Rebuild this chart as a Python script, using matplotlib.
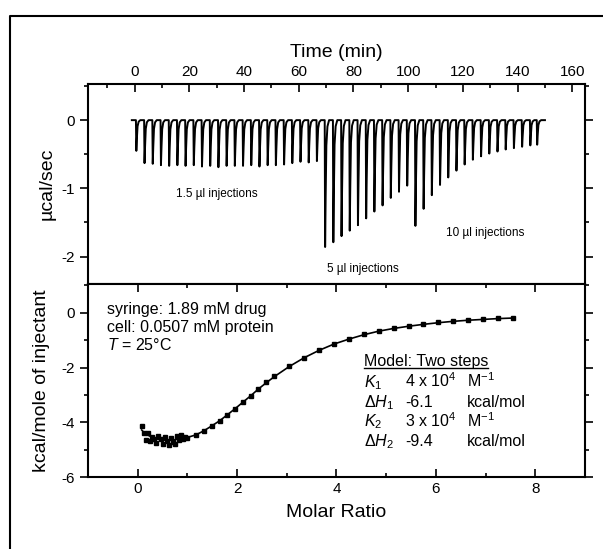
import numpy as np
import matplotlib
matplotlib.use("Agg")
import matplotlib.pyplot as plt
from matplotlib.lines import Line2D
from matplotlib.ticker import MultipleLocator

plt.rcParams["font.family"] = ["Liberation Sans", "DejaVu Sans"]
plt.rcParams["mathtext.fontset"] = "custom"
plt.rcParams["mathtext.rm"] = "Liberation Sans"
plt.rcParams["mathtext.it"] = "Liberation Sans:italic"
plt.rcParams["axes.unicode_minus"] = False

# raw thermogram: injection times (min) and peak heights (ucal/sec)
small_times = [0.5, 3.5, 6.5, 9.5, 12.5, 15.5, 18.5, 21.5, 24.5, 27.5, 30.5, 33.5,
               36.5, 39.5, 42.5, 45.5, 48.5, 51.5, 54.5, 57.5, 60.5, 63.5, 66.5]
small_peaks = [-0.45, -0.63, -0.64, -0.66, -0.67, -0.66, -0.67, -0.66, -0.68, -0.67,
               -0.69, -0.67, -0.67, -0.67, -0.66, -0.68, -0.66, -0.66, -0.65, -0.63,
               -0.61, -0.62, -0.60]
mid_times = [69.5, 72.5, 75.5, 78.5, 81.5, 84.5, 87.5, 90.5, 93.5, 96.5, 99.5]
mid_peaks = [-1.86, -1.79, -1.70, -1.62, -1.54, -1.44, -1.34, -1.25, -1.14, -1.05, -0.96]
big_times = [102.5, 105.5, 108.5, 111.5, 114.5, 117.5, 120.5, 123.5, 126.5, 129.5,
             132.5, 135.5, 138.5, 141.5, 144.5, 147.0]
big_peaks = [-1.55, -1.30, -1.10, -0.95, -0.84, -0.74, -0.65, -0.58, -0.53, -0.49,
             -0.46, -0.43, -0.41, -0.39, -0.37, -0.36]

# integrated heats
ratio = [0.08, 0.12, 0.16, 0.21, 0.25, 0.29, 0.33, 0.37, 0.41, 0.46, 0.50, 0.54,
         0.58, 0.62, 0.66, 0.71, 0.75, 0.79, 0.83, 0.87, 0.92, 0.96, 1.00,
         1.17, 1.33, 1.49, 1.65, 1.80, 1.96, 2.12, 2.28, 2.43, 2.59, 2.75,
         3.05, 3.35, 3.65, 3.95, 4.25, 4.55, 4.85, 5.15, 5.45, 5.75, 6.05,
         6.35, 6.65, 6.95, 7.25, 7.55]
heat = [-4.15, -4.38, -4.65, -4.40, -4.70, -4.52, -4.60, -4.74, -4.50, -4.62,
        -4.78, -4.55, -4.70, -4.82, -4.58, -4.72, -4.80, -4.50, -4.66, -4.48,
        -4.62, -4.55, -4.58,
        -4.48, -4.32, -4.14, -3.95, -3.74, -3.50, -3.26, -3.04, -2.78, -2.54, -2.32,
        -1.96, -1.64, -1.37, -1.12, -0.94, -0.78, -0.65, -0.55, -0.47, -0.40, -0.34,
        -0.29, -0.25, -0.22, -0.19, -0.19]
fit = [-4.28, -4.36, -4.42, -4.47, -4.51, -4.55, -4.58, -4.60, -4.62, -4.63,
       -4.64, -4.65, -4.65, -4.65, -4.65, -4.64, -4.63, -4.62, -4.61, -4.60,
       -4.59, -4.57, -4.55,
       -4.46, -4.31, -4.13, -3.94, -3.73, -3.50, -3.26, -3.02, -2.78, -2.55, -2.33,
       -1.96, -1.64, -1.37, -1.14, -0.96, -0.80, -0.67, -0.57, -0.49, -0.42, -0.36,
       -0.31, -0.27, -0.24, -0.21, -0.19]


def thermogram(times, peaks):
    # each injection: sharp dip then quick return to baseline
    tt = [-1.0]
    yy = [0.0]
    for t0, d in zip(times, peaks):
        for dt, f in [(0.0, 0.0), (0.15, 1.0), (0.35, 0.6), (0.6, 0.2), (1.0, 0.05), (1.6, 0.0)]:
            tt.append(t0 + dt)
            yy.append(d * f)
    tt.append(150.0)
    yy.append(0.0)
    return tt, yy


fig = plt.figure(figsize=(6.03, 5.49), dpi=100)
ax1 = fig.add_axes([0.146, 0.483, 0.824, 0.364])
ax2 = fig.add_axes([0.146, 0.131, 0.824, 0.352])

t_all, y_all = thermogram(small_times + mid_times + big_times,
                          small_peaks + mid_peaks + big_peaks)
ax1.plot(t_all, y_all, color="black", lw=1.4)
ax1.set_xlim(-17, 164.6)
ax1.set_ylim(-2.4, 0.53)
ax1.xaxis.tick_top()
ax1.xaxis.set_label_position("top")
ax1.set_xlabel("Time (min)", fontsize=14, labelpad=6)
ax1.set_ylabel("µcal/sec", fontsize=14, labelpad=4)
ax1.xaxis.set_major_locator(MultipleLocator(20))
ax1.xaxis.set_minor_locator(MultipleLocator(10))
ax1.yaxis.set_major_locator(MultipleLocator(1))
ax1.yaxis.set_minor_locator(MultipleLocator(0.5))
ax1.text(15, -1.12, "1.5 µl injections", fontsize=8.5)
ax1.text(70.5, -2.22, "5 µl injections", fontsize=8.5)
ax1.text(114, -1.7, "10 µl injections", fontsize=8.5)

ax2.plot(ratio, fit, color="black", lw=1.2)
ax2.plot(ratio, heat, ls="none", marker="s", ms=3.5, color="black")
ax2.set_xlim(-1, 9)
ax2.set_ylim(-6, 1.06)
ax2.set_xlabel("Molar Ratio", fontsize=14, labelpad=6)
ax2.set_ylabel("kcal/mole of injectant", fontsize=14, labelpad=8)
ax2.xaxis.set_major_locator(MultipleLocator(2))
ax2.xaxis.set_minor_locator(MultipleLocator(1))
ax2.yaxis.set_major_locator(MultipleLocator(2))
ax2.yaxis.set_minor_locator(MultipleLocator(1))

ax2.text(-0.62, 0.38, "syringe: 1.89 mM drug\ncell: 0.0507 mM protein\n$T$ = 25°C",
         fontsize=11.5, va="top", linespacing=1.2)

hdr = ax2.text(4.55, -1.95, "Model: Two steps", fontsize=11.5, va="baseline")
rows = [(r"$K_1$", "4 x 10$^4$", "M$^{-1}$"),
        (r"$\mathit{\Delta H}_1$", "-6.1", "kcal/mol"),
        (r"$K_2$", "3 x 10$^4$", "M$^{-1}$"),
        (r"$\mathit{\Delta H}_2$", "-9.4", "kcal/mol")]
for i, (a, b, c) in enumerate(rows):
    yb = -2.72 - 0.72 * i
    ax2.text(4.55, yb, a, fontsize=11.5, va="baseline")
    ax2.text(5.38, yb, b, fontsize=11.5, va="baseline")
    ax2.text(6.62, yb, c, fontsize=11.5, va="baseline")

for ax, top_ticks in [(ax1, False), (ax2, True)]:
    for s in ax.spines.values():
        s.set_linewidth(1.5)
    ax.tick_params(which="both", direction="in", right=True, width=1.2, labelsize=11)
    ax.tick_params(axis="y", which="both", direction="out", right=True)
    ax.tick_params(which="major", length=6)
    ax.tick_params(which="minor", length=3)
    if top_ticks:
        ax.tick_params(axis="x", which="both", top=True)

fig.canvas.draw()
r = fig.canvas.get_renderer()
bb = hdr.get_window_extent(r)
inv = fig.transFigure.inverted()
(x0, y0), (x1, _) = inv.transform([[bb.x0, bb.y0 + 1], [bb.x1, bb.y0]])
fig.add_artist(Line2D([x0, x1], [y0, y0], color="black", lw=1.0))

# scanned-figure frame
fig.add_artist(Line2D([0.016, 0.016, 1.0], [0.0, 0.971, 0.971], color="black", lw=1.5))

fig.savefig("out.png", dpi=100)
